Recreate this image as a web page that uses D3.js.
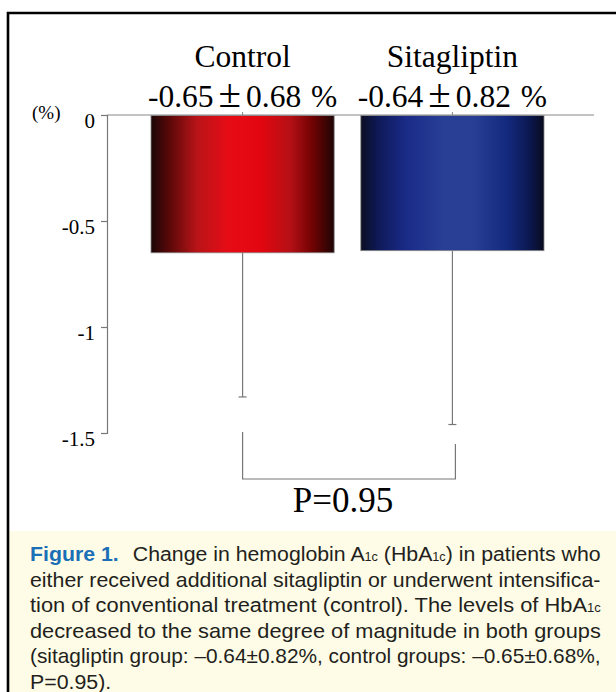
<!DOCTYPE html>
<html><head><meta charset="utf-8">
<script src="https://cdn.jsdelivr.net/npm/d3@7"></script>
<style>body{margin:0;background:#fff}svg{display:block}</style>
</head><body>
<svg id="c" width="616" height="692"></svg>
<script>
const categories = ["Control", "Sitagliptin"];
const means = [-0.65, -0.64];
const sds = [0.68, 0.82];
const meanLabels = ["-0.65", "-0.64"];
const sdLabels = ["0.68", "0.82"];
const yTicks = [0, -0.5, -1, -1.5];
const yTickLabels = ["0", "-0.5", "-1", "-1.5"];
const bracketTops = [-1.495, -1.552];
const bracketBottom = -1.717;
const pLabel = "P=0.95";

const svg = d3.select("#c");
const serif = "'Liberation Serif','Times New Roman',serif";
const sans = "'Liberation Sans',Arial,Helvetica,sans-serif";

// frame & caption background
svg.append("rect").attr("x",9).attr("y",531).attr("width",607).attr("height",161).attr("fill","#fefce6");
svg.append("path").attr("d","M8,692 V13 H616").attr("fill","none").attr("stroke","#000").attr("stroke-width",2.6);

const y = d3.scaleLinear().domain([0,-1.5]).range([115,433]);
const x = d3.scaleBand().domain(categories).range([151,544]).paddingInner(0.127).paddingOuter(0);

// gradients
const defs = svg.append("defs");
const grads = [
  [[0,"#1c0606"],[0.1,"#5a0808"],[0.25,"#b81418"],[0.42,"#e60c16"],[0.6,"#e2060f"],[0.76,"#b51016"],[0.88,"#720202"],[1,"#1e0505"]],
  [[0,"#0a0d22"],[0.1,"#0f1a5a"],[0.25,"#1a2b88"],[0.45,"#283f95"],[0.62,"#283e94"],[0.8,"#13297e"],[0.92,"#0b1850"],[1,"#080b1e"]]
];
grads.forEach((g,i)=>{
  const lg = defs.append("linearGradient").attr("id","g"+i).attr("x1","0").attr("x2","1").attr("y1","0").attr("y2","0");
  g.forEach(s=>lg.append("stop").attr("offset",s[0]).attr("stop-color",s[1]));
});

// error bars
const eb = svg.append("g").attr("stroke","#777").attr("stroke-width",1.2);
categories.forEach((c,i)=>{
  const cx = x(c)+x.bandwidth()/2;
  eb.append("line").attr("x1",cx).attr("x2",cx).attr("y1",y(means[i])).attr("y2",y(means[i]-sds[i]));
  eb.append("line").attr("x1",cx-4).attr("x2",cx+4).attr("y1",y(means[i]-sds[i])).attr("y2",y(means[i]-sds[i]));
});

// bars
svg.append("g").selectAll("rect").data(categories).join("rect")
  .attr("x",d=>x(d)).attr("width",x.bandwidth())
  .attr("y",y(0)+0.5).attr("height",(d,i)=>y(means[i])-y(0)-0.5)
  .attr("fill",(d,i)=>"url(#g"+i+")").attr("stroke","#888").attr("stroke-width",0.8);

// zero line & category ticks
svg.append("line").attr("x1",107).attr("x2",594).attr("y1",y(0)).attr("y2",y(0)).attr("stroke","#888").attr("stroke-width",1.2);
categories.forEach(c=>{
  const cx = x(c)+x.bandwidth()/2;
  svg.append("line").attr("x1",cx).attr("x2",cx).attr("y1",y(0)).attr("y2",y(0)-3).attr("stroke","#888").attr("stroke-width",1);
});

// y axis
const yAxis = d3.axisLeft(y).tickValues(yTicks).tickSize(6).tickFormat((d,i)=>yTickLabels[i]);
const ga = svg.append("g").attr("transform","translate(107,0)").call(yAxis)
  .attr("font-family",serif).attr("font-size",21);
ga.select(".domain").attr("stroke","#777").attr("stroke-width",1.2);
ga.selectAll(".tick line").attr("stroke","#777").attr("stroke-width",1.2);
ga.selectAll(".tick text").attr("fill","#000").attr("x",-12).attr("dy",null).attr("y",12);

svg.append("text").attr("x",32).attr("y",119).attr("font-family",serif).attr("font-size",19).text("(%)");

// headers
categories.forEach((c,i)=>{
  const cx = x(c)+x.bandwidth()/2;
  svg.append("text").attr("x",cx).attr("y",67).attr("text-anchor","middle").attr("font-family",serif).attr("font-size",31.5).text(c);
  const t = svg.append("text").attr("x",cx).attr("y",107).attr("text-anchor","middle").attr("font-family",serif).attr("font-size",31.5);
  t.append("tspan").text(meanLabels[i]);
  t.append("tspan").attr("dx",5).attr("font-size",41).text("\u00B1");
  t.append("tspan").attr("dx",5).text(sdLabels[i]);
  t.append("tspan").attr("dx",2).text(" %");
});

// bracket
const bx0 = x(categories[0])+x.bandwidth()/2;
const bx1 = x(categories[1])+x.bandwidth()/2+3;
svg.append("path").attr("d",`M${bx0},${y(bracketTops[0])} V${y(bracketBottom)} H${bx1} V${y(bracketTops[1])}`)
  .attr("fill","none").attr("stroke","#777").attr("stroke-width",1.2);
svg.append("text").attr("x",(bx0+bx1)/2-6).attr("y",512).attr("text-anchor","middle").attr("font-family",serif).attr("font-size",35).text(pLabel);

// caption
const capLines = [
  [["b","Figure 1."],["t","Change in hemoglobin A",14],["s","1c"],["t"," (HbA"],["s","1c"],["t",") in patients who"]],
  [["t","either received additional sitagliptin or underwent intensifica-"]],
  [["t","tion of conventional treatment (control). The levels of HbA"],["s","1c"]],
  [["t","decreased to the same degree of magnitude in both groups"]],
  [["t","(sitagliptin group: \u20130.64\u00B10.82%, control groups: \u20130.65\u00B10.68%,"]],
  [["t","P=0.95)."]]
];
const capG = svg.append("g");
const nodes = [];
capLines.forEach((ln,i)=>{
  const t = capG.append("text").attr("font-family",sans).attr("font-size",21).attr("fill","#231f20");
  ln.forEach(([k,s,dx])=>{
    let ts;
    if(k==="b") ts = t.append("tspan").attr("font-weight","bold").attr("fill","#1b6fb6").text(s);
    else if(k==="s") ts = t.append("tspan").attr("font-size",12.5).text(s);
    else ts = t.append("tspan").text(s);
    if(dx) ts.attr("dx",dx);
  });
  nodes.push(t);
});
const scales = nodes.map(t=>{
  const bb = t.node().getBBox();
  return 571/(bb.x + bb.width);
});
const refScale = scales[1];
nodes.forEach((t,i)=>{
  const sx = i<5 ? scales[i] : refScale;
  t.attr("transform",`translate(30,${561+i*25.6}) scale(${sx},1)`);
});
</script>
</body></html>
